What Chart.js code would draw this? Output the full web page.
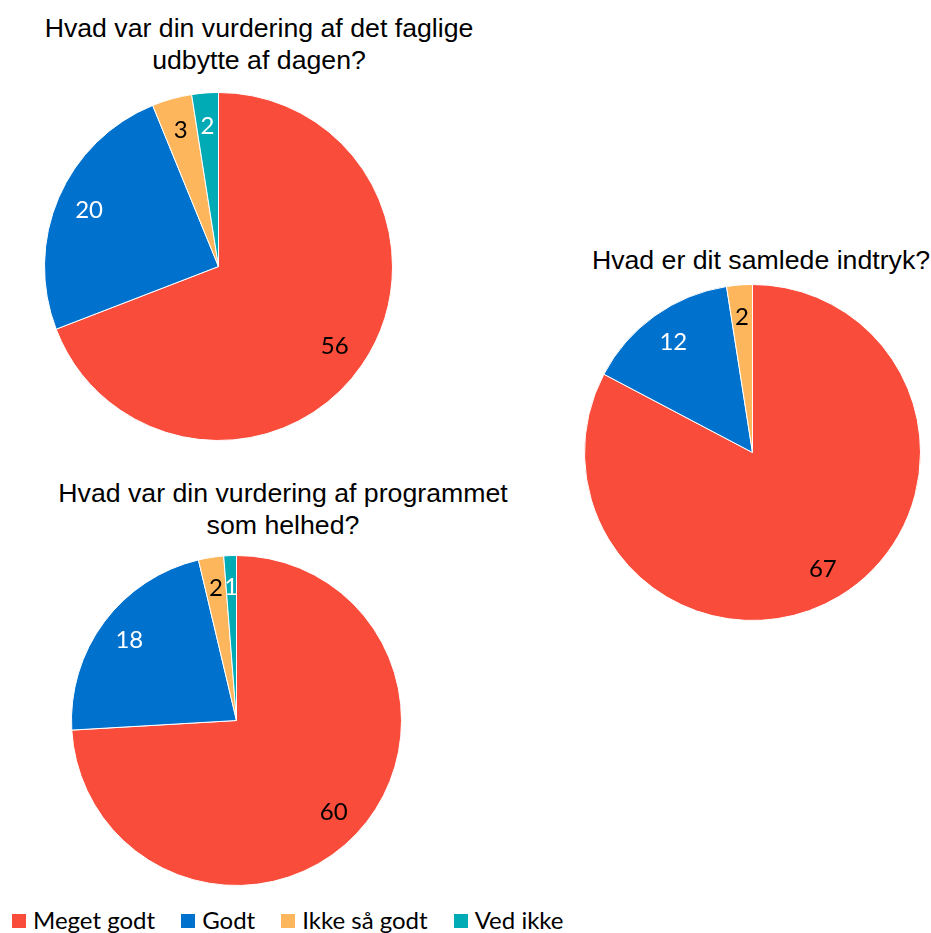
<!DOCTYPE html>
<html lang="da">
<head>
<meta charset="utf-8">
<script src="https://cdn.jsdelivr.net/npm/chart.js@4/dist/chart.umd.min.js"></script>
<style>
  html, body { margin: 0; padding: 0; background: #fff; overflow: hidden; width: 931px; height: 933px; }
  .box { position: absolute; }
  .titel { position: absolute; text-align: center; font-family: "Liberation Sans", Arial, sans-serif; font-size: 26.7px; line-height: 32px; color: #000; white-space: nowrap; }
  #legend { position: absolute; left: 12px; top: 905px; display: flex; font-family: Lato, "Open Sans", sans-serif; font-size: 24px; line-height: 29px; color: #000; }
  #legend .item { display: flex; align-items: center; margin-right: 26px; white-space: nowrap; }
  #legend .sw { width: 14px; height: 14px; margin-right: 7px; margin-top: 2px; }
</style>
</head>
<body>
<div class="titel" id="t1" style="left:0;top:12px;width:518px"></div>
<div class="titel" id="t2" style="left:561px;top:244px;width:400px"></div>
<div class="titel" id="t3" style="left:0;top:477px;width:566px"></div>
<div class="box" style="left:44px;top:92px;width:349px;height:349px"><canvas id="c1"></canvas></div>
<div class="box" style="left:584px;top:284px;width:337px;height:337px"><canvas id="c2"></canvas></div>
<div class="box" style="left:71px;top:555px;width:331px;height:331px"><canvas id="c3"></canvas></div>
<div id="legend"></div>
<script>
  const categories = ['Meget godt', 'Godt', 'Ikke så godt', 'Ved ikke'];
  const fagligtValues = [56, 20, 3, 2];
  const indtrykValues = [67, 12, 2, 0];
  const programValues = [60, 18, 2, 1];

  const fagligtTitel = ['Hvad var din vurdering af det faglige', 'udbytte af dagen?'];
  const indtrykTitel = ['Hvad er dit samlede indtryk?'];
  const programTitel = ['Hvad var din vurdering af programmet', 'som helhed?'];

  const sliceColors = ['#F94C3B', '#0071CD', '#FDB65B', '#00ABB6'];
  const labelColors = ['#000', '#fff', '#000', '#fff'];

  // etiketter inde i skiverne (ingen datalabels-plugin tilgængelig)
  const sliceLabels = {
    id: 'sliceLabels',
    afterDatasetsDraw(chart) {
      const ctx = chart.ctx;
      const meta = chart.getDatasetMeta(0);
      const data = chart.data.datasets[0].data;
      ctx.save();
      ctx.font = '24px Lato, "Open Sans", sans-serif';
      ctx.textAlign = 'center';
      ctx.textBaseline = 'middle';
      meta.data.forEach((arc, i) => {
        if (!data[i]) return;
        const { x, y, startAngle, endAngle, outerRadius } = arc.getProps(['x', 'y', 'startAngle', 'endAngle', 'outerRadius'], true);
        const mid = (startAngle + endAngle) / 2;
        const d = outerRadius * 0.81;
        ctx.fillStyle = labelColors[i];
        ctx.fillText(String(data[i]), x + Math.cos(mid) * d, y + Math.sin(mid) * d);
      });
      ctx.restore();
    }
  };

  function lavPie(id, values) {
    return new Chart(document.getElementById(id), {
      type: 'pie',
      data: {
        labels: categories,
        datasets: [{
          data: values,
          backgroundColor: sliceColors,
          borderColor: '#fff',
          borderWidth: 1
        }]
      },
      options: {
        responsive: true,
        maintainAspectRatio: false,
        animation: false,
        events: [],
        layout: { padding: 0 },
        plugins: {
          legend: { display: false },
          tooltip: { enabled: false }
        }
      },
      plugins: [sliceLabels]
    });
  }

  lavPie('c1', fagligtValues);
  lavPie('c2', indtrykValues);
  lavPie('c3', programValues);

  // ── TITLER ───────────────────────────────────────────────
  document.getElementById('t1').innerHTML = fagligtTitel.join('<br>');
  document.getElementById('t2').innerHTML = indtrykTitel.join('<br>');
  document.getElementById('t3').innerHTML = programTitel.join('<br>');

  // ── LEGENDE ──────────────────────────────────────────────
  document.getElementById('legend').innerHTML = categories.map((c, i) => `
    <div class="item"><span class="sw" style="background:${sliceColors[i]}"></span>${c}</div>`).join('');
</script>
</body>
</html>
